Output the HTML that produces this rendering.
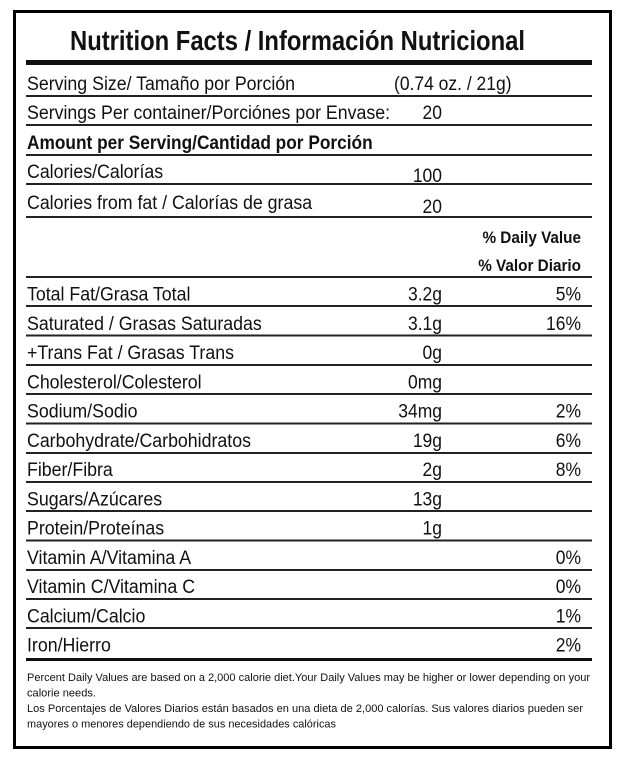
<!DOCTYPE html>
<html><head><meta charset="utf-8"><style>
html,body{margin:0;padding:0;background:#fff;}
svg{display:block;}
text{font-family:"Liberation Sans",Arial,sans-serif;fill:#111;}
.b{font-size:19px;}
.bd{font-size:19px;font-weight:bold;}
.dv{font-size:17px;font-weight:bold;}
.f{font-size:11px;}
.r{text-anchor:end;}
</style></head><body>
<svg width="628" height="766" viewBox="0 0 628 766" xmlns="http://www.w3.org/2000/svg">
<rect x="0" y="0" width="628" height="766" fill="#fff"/>
<rect x="14.5" y="11.5" width="596" height="736" fill="none" stroke="#000" stroke-width="3"/>
<text x="70" y="50" style="font-size:28px;font-weight:bold" textLength="455" lengthAdjust="spacingAndGlyphs">Nutrition Facts / Información Nutricional</text>
<rect x="26" y="60" width="566" height="5" fill="#111"/>

<text class="b" transform="translate(27,90) scale(0.935,1)">Serving Size/ Tamaño por Porción</text>
<text class="b" transform="translate(394,90) scale(0.92,1)">(0.74 oz. / 21g)</text>
<rect x="26" y="95" width="566" height="2" fill="#222"/>

<text class="b" transform="translate(27,119) scale(0.935,1)">Servings Per container/Porciónes por Envase:</text>
<text class="b r" transform="translate(442,119) scale(0.92,1)">20</text>
<rect x="26" y="124" width="566" height="2" fill="#222"/>

<text class="bd" transform="translate(27,149) scale(0.91,1)">Amount per Serving/Cantidad por Porción</text>
<rect x="26" y="154" width="566" height="2" fill="#222"/>

<text class="b" transform="translate(27,178) scale(0.935,1)">Calories/Calorías</text>
<text class="b r" transform="translate(442,182) scale(0.92,1)">100</text>
<rect x="26" y="183" width="566" height="2" fill="#222"/>

<text class="b" transform="translate(27,209) scale(0.935,1)">Calories from fat / Calorías de grasa</text>
<text class="b r" transform="translate(442,213) scale(0.92,1)">20</text>
<rect x="26" y="216" width="566" height="2" fill="#222"/>

<text class="dv r" transform="translate(581,243) scale(0.9,1)">% Daily Value</text>
<text class="dv r" transform="translate(581,271) scale(0.9,1)">% Valor Diario</text>
<rect x="26" y="276" width="566" height="2" fill="#222"/>

<text class="b" transform="translate(27,300.5) scale(0.935,1)">Total Fat/Grasa Total</text>
<text class="b r" transform="translate(442,300.5) scale(0.92,1)">3.2g</text>
<text class="b r" transform="translate(581,300.5) scale(0.92,1)">5%</text>
<rect x="26" y="305" width="566" height="2" fill="#222"/>

<text class="b" transform="translate(27,330) scale(0.935,1)">Saturated / Grasas Saturadas</text>
<text class="b r" transform="translate(442,330) scale(0.92,1)">3.1g</text>
<text class="b r" transform="translate(581,330) scale(0.92,1)">16%</text>
<rect x="26" y="334.5" width="566" height="2" fill="#222"/>

<text class="b" transform="translate(27,359) scale(0.935,1)">+Trans Fat / Grasas Trans</text>
<text class="b r" transform="translate(442,359) scale(0.92,1)">0g</text>
<rect x="26" y="364" width="566" height="2" fill="#222"/>

<text class="b" transform="translate(27,388.5) scale(0.935,1)">Cholesterol/Colesterol</text>
<text class="b r" transform="translate(442,388.5) scale(0.92,1)">0mg</text>
<rect x="26" y="393" width="566" height="2" fill="#222"/>

<text class="b" transform="translate(27,417.5) scale(0.935,1)">Sodium/Sodio</text>
<text class="b r" transform="translate(442,417.5) scale(0.92,1)">34mg</text>
<text class="b r" transform="translate(581,417.5) scale(0.92,1)">2%</text>
<rect x="26" y="422.5" width="566" height="2" fill="#222"/>

<text class="b" transform="translate(27,447) scale(0.935,1)">Carbohydrate/Carbohidratos</text>
<text class="b r" transform="translate(442,447) scale(0.92,1)">19g</text>
<text class="b r" transform="translate(581,447) scale(0.92,1)">6%</text>
<rect x="26" y="452" width="566" height="2" fill="#222"/>

<text class="b" transform="translate(27,476) scale(0.935,1)">Fiber/Fibra</text>
<text class="b r" transform="translate(442,476) scale(0.92,1)">2g</text>
<text class="b r" transform="translate(581,476) scale(0.92,1)">8%</text>
<rect x="26" y="481" width="566" height="2" fill="#222"/>

<text class="b" transform="translate(27,505.5) scale(0.935,1)">Sugars/Azúcares</text>
<text class="b r" transform="translate(442,505.5) scale(0.92,1)">13g</text>
<rect x="26" y="510" width="566" height="2" fill="#222"/>

<text class="b" transform="translate(27,534.5) scale(0.935,1)">Protein/Proteínas</text>
<text class="b r" transform="translate(442,534.5) scale(0.92,1)">1g</text>
<rect x="26" y="539.5" width="566" height="2" fill="#222"/>

<text class="b" transform="translate(27,564) scale(0.935,1)">Vitamin A/Vitamina A</text>
<text class="b r" transform="translate(581,564) scale(0.92,1)">0%</text>
<rect x="26" y="569" width="566" height="2" fill="#222"/>

<text class="b" transform="translate(27,593) scale(0.935,1)">Vitamin C/Vitamina C</text>
<text class="b r" transform="translate(581,593) scale(0.92,1)">0%</text>
<rect x="26" y="598" width="566" height="2" fill="#222"/>

<text class="b" transform="translate(27,622.5) scale(0.935,1)">Calcium/Calcio</text>
<text class="b r" transform="translate(581,622.5) scale(0.92,1)">1%</text>
<rect x="26" y="627" width="566" height="2" fill="#222"/>

<text class="b" transform="translate(27,651.5) scale(0.935,1)">Iron/Hierro</text>
<text class="b r" transform="translate(581,651.5) scale(0.92,1)">2%</text>
<rect x="26" y="658" width="566" height="3" fill="#111"/>

<text class="f" x="27" y="681" textLength="563" lengthAdjust="spacingAndGlyphs">Percent Daily Values are based on a 2,000 calorie diet.Your Daily Values may be higher or lower depending on your</text>
<text class="f" x="27" y="696.5" textLength="69" lengthAdjust="spacingAndGlyphs">calorie needs.</text>
<text class="f" x="27" y="712" textLength="556" lengthAdjust="spacingAndGlyphs">Los Porcentajes de Valores Diarios están basados en una dieta de 2,000 calorías. Sus valores diarios pueden ser</text>
<text class="f" x="27" y="727.5" textLength="309" lengthAdjust="spacingAndGlyphs">mayores o menores dependiendo de sus necesidades calóricas</text>
</svg>
</body></html>
